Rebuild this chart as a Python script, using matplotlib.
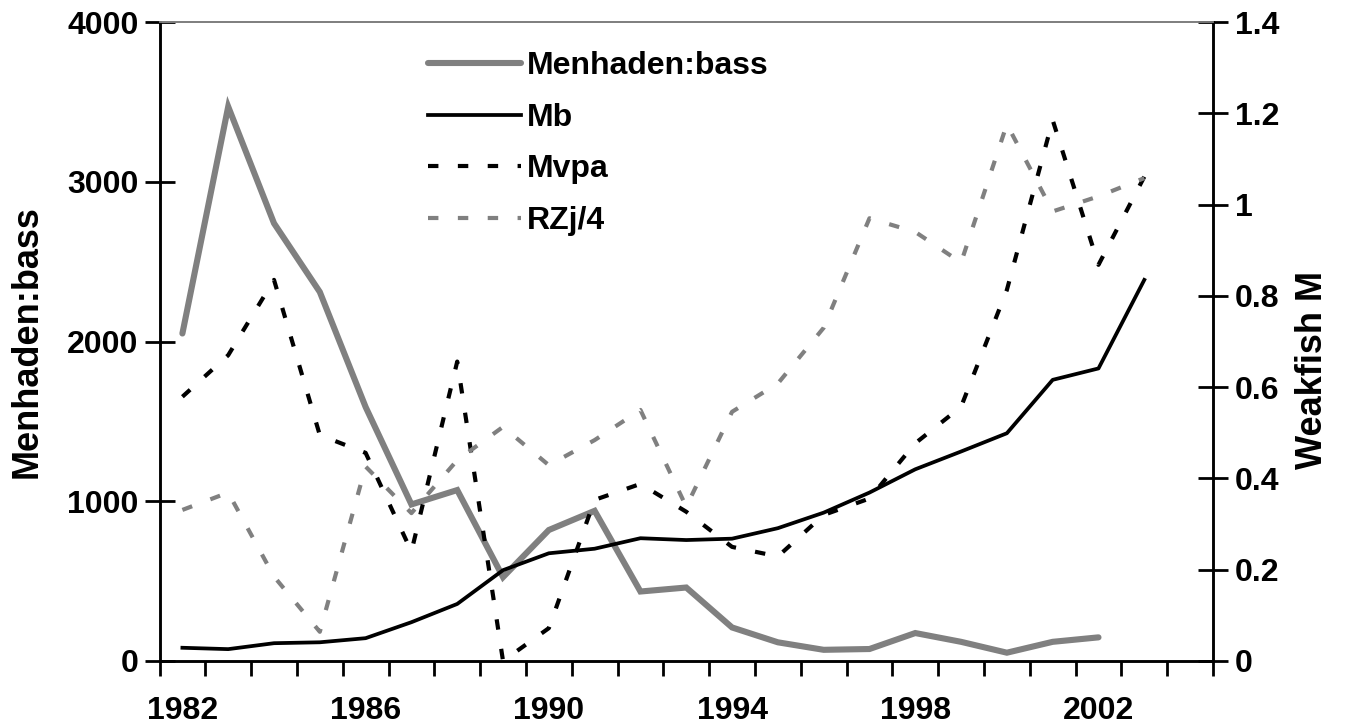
import matplotlib
matplotlib.use("Agg")
import matplotlib.pyplot as plt
from matplotlib.ticker import FixedLocator, FuncFormatter

plt.rcParams['font.family'] = ['Liberation Sans', 'DejaVu Sans']
plt.rcParams['font.weight'] = 'bold'
plt.rcParams['lines.scale_dashes'] = False

# Category axis: one slot per year
years = list(range(1982, 2005))

# Menhaden:bass ratio (left axis), 1982-2002
menhaden_bass = [2050, 3470, 2740, 2310, 1590, 980, 1070, 525, 820, 940,
                 435, 460, 210, 117, 70, 75, 175, 120, 52, 120, 148]

# Weakfish natural mortality estimates (right axis), 1982-2003
mb = [0.029, 0.026, 0.039, 0.041, 0.050, 0.085, 0.125, 0.199, 0.236, 0.246,
      0.269, 0.265, 0.268, 0.291, 0.325, 0.369, 0.420, 0.459, 0.499, 0.616,
      0.641, 0.835]
mvpa = [0.579, 0.670, 0.835, 0.495, 0.456, 0.240, 0.656, 0.0, 0.072, 0.353,
        0.388, 0.327, 0.250, 0.229, 0.320, 0.356, 0.477, 0.557, 0.813, 1.185,
        0.868, 1.061]
rzj4 = [0.331, 0.369, 0.185, 0.064, 0.426, 0.324, 0.440, 0.513, 0.429, 0.484,
        0.550, 0.338, 0.546, 0.608, 0.730, 0.970, 0.940, 0.873, 1.176, 0.985,
        1.018, 1.058]

left_ticks = [0, 1000, 2000, 3000, 4000]
right_ticks = [0, 0.2, 0.4, 0.6, 0.8, 1.0, 1.2, 1.4]
year_labels = [1982, 1986, 1990, 1994, 1998, 2002]

GRAY = '#808080'
FS = 23
LABEL_FS = 26

fig = plt.figure(figsize=(13.47, 7.27), dpi=100)
ax = fig.add_axes([159.5 / 1347, 1 - 661 / 727, (1213 - 159.5) / 1347, (661 - 22) / 727])
ax2 = ax.twinx()

ax.plot(years[:len(menhaden_bass)], menhaden_bass, color=GRAY, lw=4.4,
        solid_joinstyle='miter', solid_capstyle='round', label='Menhaden:bass')
ax2.plot(years[:len(mb)], mb, color='black', lw=2.7, label='Mb')
ax2.plot(years[:len(mvpa)], mvpa, color='black', lw=3.0,
         linestyle=(0, (7.5, 14.0)), dash_capstyle='butt', label='Mvpa')
ax2.plot(years[:len(rzj4)], rzj4, color=GRAY, lw=3.0,
         linestyle=(0, (7.5, 14.0)), dash_capstyle='butt', label='RZj/4')

ax.set_xlim(1981.5, 2004.5)
ax.set_ylim(0, 4000)
ax2.set_ylim(0, 1.4)

# x axis: labels at category centres, tick marks between categories
ax.xaxis.set_major_locator(FixedLocator(year_labels))
ax.xaxis.set_minor_locator(FixedLocator([y - 0.5 for y in years] + [years[-1] + 0.5]))
ax.tick_params(axis='x', which='major', length=0, pad=25, labelsize=FS)
ax.tick_params(axis='x', which='minor', length=11, width=2, direction='out', color='black')

ax.yaxis.set_major_locator(FixedLocator(left_ticks))
ax.tick_params(axis='y', which='major', length=22, width=2, direction='inout',
               pad=4, labelsize=FS)
ax2.yaxis.set_major_locator(FixedLocator(right_ticks))
ax2.yaxis.set_major_formatter(FuncFormatter(lambda v, p: f"{v:g}"))
ax2.tick_params(axis='y', which='major', length=22, width=2, direction='inout',
                pad=5, labelsize=FS)
ax2.tick_params(axis='x', which='both', length=0)

for a in (ax, ax2):
    a.spines['left'].set_linewidth(1.8)
    a.spines['right'].set_linewidth(1.8)
    a.spines['bottom'].set_linewidth(1.8)
    a.spines['top'].set_color(GRAY)
    a.spines['top'].set_linewidth(1.3)
    for lab in a.get_xticklabels() + a.get_yticklabels():
        lab.set_fontweight('bold')

ax.set_ylabel('Menhaden:bass', fontsize=LABEL_FS, fontweight='bold')
ax2.set_ylabel('Weakfish M', fontsize=LABEL_FS, fontweight='bold')
ax.yaxis.set_label_coords((45 - 159.5) / 1053.5, 0.5)
ax2.yaxis.set_label_coords((1295 - 159.5) / 1053.5, (661 - 370) / 639)

h1, lab1 = ax.get_legend_handles_labels()
h2, lab2 = ax2.get_legend_handles_labels()
leg = ax2.legend(h1 + h2, lab1 + lab2, loc='upper left',
                 bbox_to_anchor=((428 - 159.5) / 1053.5, 1 - (51 - 22) / 639),
                 frameon=False, fontsize=FS, handlelength=2.9, handletextpad=0.2,
                 labelspacing=0.68, borderaxespad=0, borderpad=0)
for t in leg.get_texts():
    t.set_fontweight('bold')

fig.savefig('out.png', dpi=100)
